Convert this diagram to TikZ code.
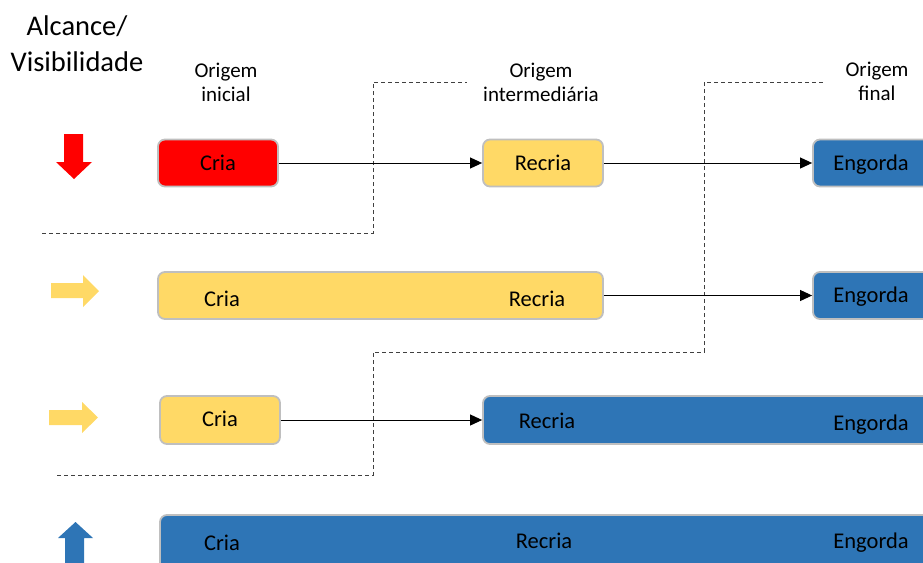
\documentclass[tikz,border=0pt]{standalone}
\usepackage{fontspec}
\setmainfont{Carlito}
\usetikzlibrary{arrows.meta}
\definecolor{cred}{HTML}{FF0000}
\definecolor{cyel}{HTML}{FFD966}
\definecolor{cblue}{HTML}{2E75B6}
\definecolor{cbord}{HTML}{BFBFBF}
\definecolor{cdash}{HTML}{404040}
\tikzset{
  boxbase/.style={draw=cbord, line width=1.8pt, rounded corners=7pt, inner sep=0pt, minimum height=47pt},
  redbox/.style={boxbase, fill=cred},
  yelbox/.style={boxbase, fill=cyel},
  bluebox/.style={boxbase, fill=cblue},
  boxtext/.style={inner sep=0pt, anchor=base, font=\fontsize{22.5}{26}\selectfont, text=black},
  toplabel/.style={inner sep=0pt, anchor=base, font=\fontsize{21}{26}\selectfont},
  titletext/.style={inner sep=0pt, anchor=base, font=\fontsize{28.5}{36}\selectfont},
  conn/.style={black, line width=0.9pt, -{Triangle[length=12pt,width=11pt]}},
  sep/.style={cdash, line width=0.9pt, dash pattern=on 4pt off 3pt},
}
\begin{document}
\begin{tikzpicture}[x=1pt,y=-1pt]
\useasboundingbox (0,0) rectangle (923,562);
\clip (0,0) rectangle (923,562);
% title and column labels
\node[titletext] (title1) at (77,35) {Alcance/};
\node[titletext] (title2) at (77,71) {Visibilidade};
\node[toplabel] (lab1a) at (226,77) {Origem};
\node[toplabel] (lab1b) at (226,101) {inicial};
\node[toplabel] (lab2a) at (541,77) {Origem};
\node[toplabel] (lab2b) at (541,101.5) {intermedi\'aria};
\node[toplabel] (lab3a) at (877,76) {Origem};
\node[toplabel] (lab3b) at (877,100) {final};
% dashed separators
\coordinate (d1a) at (42,233);
\coordinate (d1b) at (373,233);
\coordinate (d1c) at (373,82);
\coordinate (d1d) at (467,82);
\draw[sep] (d1a) -- (d1b) -- (d1c) -- (d1d);
\coordinate (d2a) at (57,475);
\coordinate (d2b) at (373,475);
\coordinate (d2c) at (373,352);
\coordinate (d2d) at (704,352);
\coordinate (d2e) at (704,82);
\coordinate (d2f) at (824,82);
\draw[sep] (d2a) -- (d2b) -- (d2c) -- (d2d) -- (d2e) -- (d2f);
% block arrows
\fill[cred] (64,134) -- (83,134) -- (83,162) -- (92,162) -- (74,179) -- (56,162) -- (64,162) -- cycle;
\fill[cyel] (51,283) -- (83,283) -- (83,275) -- (99,291) -- (83,307) -- (83,298) -- (51,298) -- cycle;
\fill[cyel] (49,410) -- (82,410) -- (82,402) -- (98,417.5) -- (82,433) -- (82,425) -- (49,425) -- cycle;
\fill[cblue] (65,570) -- (65,538) -- (58,538) -- (75.5,522) -- (93,538) -- (84,538) -- (84,570) -- cycle;
% row 1
\node[redbox, minimum width=120pt] (r1cria) at (218,163) {};
\node[yelbox, minimum width=120pt] (r1recria) at (543,163) {};
\node[bluebox, minimum width=120pt] (r1engorda) at (873,163) {};
\node[boxtext] (r1criat) at (218,170) {Cria};
\node[boxtext] (r1recriat) at (543,170.5) {Recria};
\node[boxtext] (r1engt) at (871,170) {Engorda};
\draw[conn] (r1cria.east) -- (r1recria.west);
\draw[conn] (r1recria.east) -- (r1engorda.west);
% row 2
\node[yelbox, minimum width=445pt] (r2box) at (380.5,295.5) {};
\node[boxtext] (r2cria) at (222,306.5) {Cria};
\node[boxtext] (r2recria) at (537,306.5) {Recria};
\node[bluebox, minimum width=120pt] (r2engorda) at (873,295.5) {};
\node[boxtext] (r2engt) at (871,302) {Engorda};
\draw[conn] (r2box.east) -- (r2engorda.west);
% row 3
\node[yelbox, minimum width=120pt, minimum height=48pt] (r3cria) at (220,420) {};
\node[boxtext] (r3criat) at (220,426.5) {Cria};
\node[bluebox, minimum width=460pt, minimum height=48pt] (r3box) at (713,420) {};
\node[boxtext] (r3recria) at (547,428) {Recria};
\node[boxtext] (r3engorda) at (871,430) {Engorda};
\draw[conn] (r3cria.east) -- (r3box.west);
% row 4
\node[bluebox, minimum width=790pt, minimum height=60pt] (r4box) at (555,545) {};
\node[boxtext] (r4cria) at (222,550.5) {Cria};
\node[boxtext] (r4recria) at (544,548) {Recria};
\node[boxtext] (r4engorda) at (871,548) {Engorda};
\end{tikzpicture}
\end{document}
